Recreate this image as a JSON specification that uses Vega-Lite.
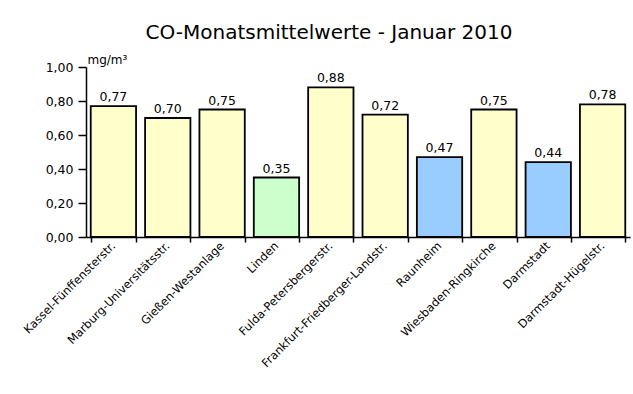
{
  "$schema": "https://vega.github.io/schema/vega-lite/v6.json",
  "autosize": {"type": "none"},
  "padding": {"left": 86, "top": 67, "right": 3, "bottom": 157},
  "width": 544,
  "height": 170,
  "background": "white",
  "title": {
    "text": "CO-Monatsmittelwerte  -  Januar 2010",
    "font": "DejaVu Sans",
    "fontSize": 20,
    "fontWeight": "normal",
    "color": "black",
    "anchor": "middle",
    "baseline": "alphabetic",
    "dx": -29,
    "offset": -6
  },
  "data": {
    "values": [
      {"station": "Kassel-Fünffensterstr.", "wert": 0.77, "typ": "Verkehr"},
      {"station": "Marburg-Universitätsstr.", "wert": 0.70, "typ": "Verkehr"},
      {"station": "Gießen-Westanlage", "wert": 0.75, "typ": "Verkehr"},
      {"station": "Linden", "wert": 0.35, "typ": "ländlich"},
      {"station": "Fulda-Petersbergerstr.", "wert": 0.88, "typ": "Verkehr"},
      {"station": "Frankfurt-Friedberger-Landstr.", "wert": 0.72, "typ": "Verkehr"},
      {"station": "Raunheim", "wert": 0.47, "typ": "städtisch"},
      {"station": "Wiesbaden-Ringkirche", "wert": 0.75, "typ": "Verkehr"},
      {"station": "Darmstadt", "wert": 0.44, "typ": "städtisch"},
      {"station": "Darmstadt-Hügelstr.", "wert": 0.78, "typ": "Verkehr"}
    ]
  },
  "encoding": {
    "x": {
      "field": "station",
      "type": "nominal",
      "sort": null,
      "scale": {"paddingInner": 0.166, "paddingOuter": 0.087},
      "axis": {
        "title": null,
        "labelAngle": -45,
        "labelAlign": "right",
        "labelBaseline": "middle",
        "labelFont": "DejaVu Sans",
        "labelFontSize": 11.5,
        "labelColor": "black",
        "labelPadding": 2,
        "labelOverlap": false,
        "labelLimit": 300,
        "tickBand": "extent",
        "tickSize": 5,
        "tickColor": "black",
        "domainColor": "black",
        "domainWidth": 1.5,
        "tickWidth": 1.5
      }
    },
    "y": {
      "field": "wert",
      "type": "quantitative",
      "scale": {"domain": [0, 1], "nice": false},
      "axis": {
        "title": "mg/m³",
        "titleAngle": 0,
        "titleX": 1,
        "titleY": -4,
        "titleAlign": "left",
        "titleBaseline": "alphabetic",
        "titleFont": "DejaVu Sans",
        "titleFontSize": 12,
        "titleFontWeight": "normal",
        "titleColor": "black",
        "values": [0, 0.2, 0.4, 0.6, 0.8, 1.0],
        "labelExpr": "replace(format(datum.value, '.2f'), '.', ',')",
        "labelFont": "DejaVu Sans",
        "labelFontSize": 12.5,
        "labelColor": "black",
        "labelPadding": 5,
        "tickSize": 8,
        "tickColor": "black",
        "tickWidth": 1.5,
        "domainColor": "black",
        "domainWidth": 1.5,
        "grid": false
      }
    }
  },
  "layer": [
    {
      "mark": {"type": "bar", "stroke": "black", "strokeWidth": 1.8},
      "encoding": {
        "color": {
          "field": "typ",
          "type": "nominal",
          "scale": {"domain": ["Verkehr", "ländlich", "städtisch"], "range": ["#FFFFCC", "#CCFFCC", "#99CCFF"]},
          "legend": null
        }
      }
    },
    {
      "mark": {"type": "text", "baseline": "alphabetic", "dy": -5, "font": "DejaVu Sans", "fontSize": 12.5, "color": "black"},
      "encoding": {
        "text": {"field": "wert", "type": "quantitative", "format": ".2f"}
      }
    }
  ],
  "config": {
    "view": {"stroke": null},
    "locale": {"number": {"decimal": ",", "thousands": ".", "grouping": [3], "currency": ["", " €"]}}
  }
}
